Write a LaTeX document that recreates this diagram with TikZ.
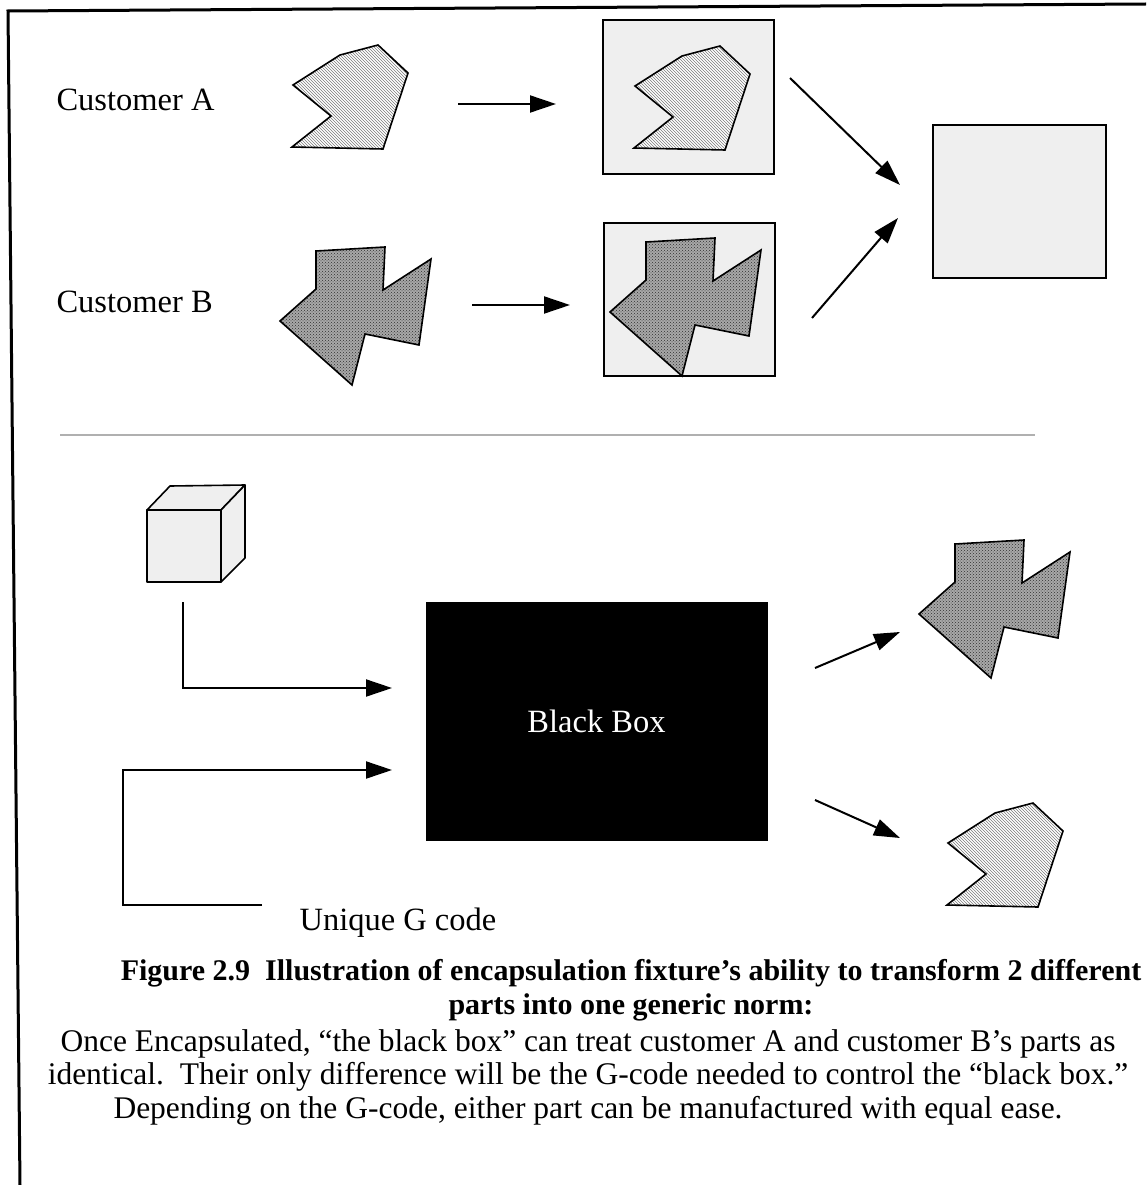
\documentclass[tikz,border=0pt]{standalone}
\usepackage{fontspec}
\setmainfont{Liberation Serif}
\usetikzlibrary{arrows.meta, positioning, patterns}
\definecolor{myboxfill}{HTML}{EFEFEF}
\definecolor{myhatch}{HTML}{7C7C7C}
\definecolor{mydots}{HTML}{303030}
\definecolor{mydotsfill}{HTML}{A8A8A8}
\definecolor{myrule}{HTML}{B0B0B0}
\tikzset{
holder/.style={
draw=black,
fill=myboxfill,
line width=1.6pt,
minimum width=171pt,
minimum height=154pt,
inner sep=0pt
},
hatchpart/.style={
draw=black,
line width=1.6pt,
line join=miter,
preaction={fill=white},
pattern=north west lines,
pattern color=myhatch
},
dotspart/.style={
draw=black,
line width=1.6pt,
line join=miter,
preaction={fill=mydotsfill},
pattern=crosshatch dots,
pattern color=mydots
},
cubeface/.style={
draw=black,
fill=myboxfill,
line width=1.6pt,
line join=round
},
flowarrow/.style={
-{Triangle[length=26pt,width=17pt]},
line width=2pt
},
labeltext/.style={
font=\fontsize{32.5}{38}\selectfont
},
partA/.pic={
\draw[hatchpart] (0,0) -- (30,28) -- (5,104) -- (-86,102) -- (-47,71)
  -- (-85,40) -- (-38,10) -- cycle;
},
partB/.pic={
\draw[dotspart] (0,0) -- (69,-4) -- (67,39) -- (115,8) -- (103,94)
  -- (49,83) -- (36,134) -- (-36,70) -- (0,38) -- cycle;
}
}
\begin{document}
\begin{tikzpicture}[
x=1pt, y=-1pt,
every node/.style={align=center}
]
\useasboundingbox (0,0) rectangle (1146,1185);

% page frame
\draw[line width=3pt] (1146,4) -- (8,11) -- (20,1185);

% top half: customers
\node[labeltext, anchor=base west] (custA) at (53,111) {Customer A};
\node[labeltext, anchor=base west] (custB) at (53,312) {Customer B};

\node[holder] (holderA) at (688.5,97) {};
\node[holder, minimum height=153pt] (holderB) at (689.5,299.5) {};
\node[holder, minimum width=173pt, minimum height=153pt] (norm) at (1019.5,201.5) {};

\pic at (378,45) {partA};
\pic at (720,46) {partA};
\pic at (316,251) {partB};
\pic at (646,242) {partB};

\coordinate (a1s) at (458,104);
\coordinate (a1e) at (556,104);
\coordinate (b1s) at (472,305);
\coordinate (b1e) at (570,305);
\coordinate (a2s) at (790,78);
\coordinate (a2e) at (900,185);
\coordinate (b2s) at (812,318);
\coordinate (b2e) at (898,218);

\draw[flowarrow] (a1s) -- (a1e);
\draw[flowarrow] (b1s) -- (b1e);
\draw[flowarrow] (a2s) -- (a2e);
\draw[flowarrow] (b2s) -- (b2e);

% separator
\coordinate (ruleL) at (60,435);
\coordinate (ruleR) at (1035,435);
\draw[myrule, line width=1.5pt] (ruleL) -- (ruleR);

% bottom half: black box
\draw[cubeface] (147,510) rectangle (221,582);
\draw[cubeface] (147,510) -- (170,486) -- (245,485) -- (221,510) -- cycle;
\draw[cubeface] (221,510) -- (245,485) -- (245,558) -- (221,582) -- cycle;

\node[draw=black, fill=black, minimum width=341pt, minimum height=238pt,
  text=white, labeltext] (blackbox) at (596.5,721) {Black Box};

\pic at (955,544) {partB};
\pic at (1033,803) {partA};

\coordinate (cubeout) at (183,602);
\coordinate (cubein) at (392,688);
\coordinate (gcode) at (262,905);
\coordinate (gcorner) at (123,905);
\coordinate (gin) at (392,770);
\coordinate (boutBs) at (815,668);
\coordinate (boutBe) at (900,632);
\coordinate (boutAs) at (815,800);
\coordinate (boutAe) at (900,838);

\draw[flowarrow] (cubeout) |- (cubein);
\draw[flowarrow] (gcode) -- (gcorner) |- (gin);
\draw[flowarrow] (boutBs) -- (boutBe);
\draw[flowarrow] (boutAs) -- (boutAe);

\node[labeltext, anchor=base west] (gtext) at (296,930) {Unique G code};

% caption
\node[font=\bfseries\fontsize{30}{34}\selectfont] (captitle) at (631,990)
  {Figure 2.9\ \ Illustration of encapsulation fixture’s ability to transform 2 different\\
   parts into one generic norm:};
\node[font=\fontsize{31.5}{33.5}\selectfont] (capbody) at (588,1077)
  {Once Encapsulated, “the black box” can treat customer A and customer B’s parts as\\
   identical.\ \ Their only difference will be the G-code needed to control the “black box.”\\
   Depending on the G-code, either part can be manufactured with equal ease.};

\end{tikzpicture}
\end{document}
